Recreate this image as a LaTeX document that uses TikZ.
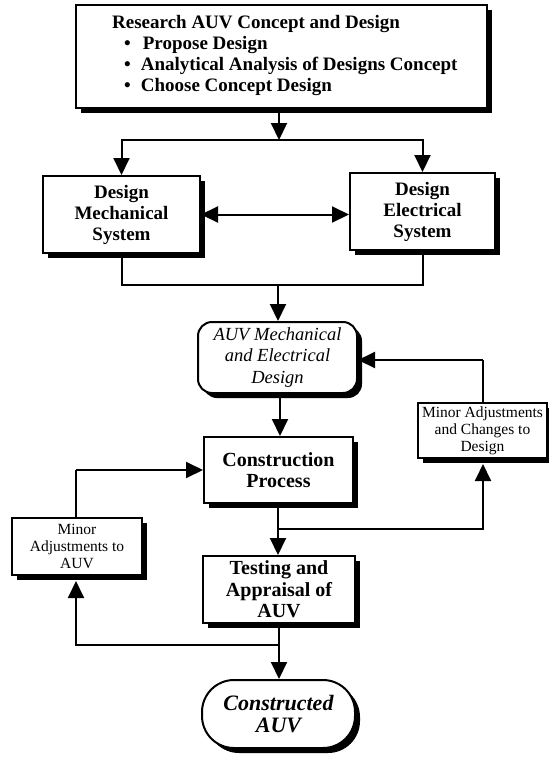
\documentclass[tikz,border=0pt]{standalone}
\usepackage{fontspec}
\setmainfont{Liberation Serif}
\usetikzlibrary{arrows.meta,shadows,calc}
\begin{document}
\begin{tikzpicture}[x=1pt,y=-1pt,
  box/.style={draw=black, line width=2pt, fill=white, inner sep=0pt, align=center,
    general shadow={fill=black, shadow xshift=5pt, shadow yshift=-5pt}},
  rbox/.style={box, rounded corners=14pt},
  stad/.style={box, rounded corners=32pt},
  bigtxt/.style={font=\bfseries\fontsize{19}{21}\selectfont},
  cptxt/.style={font=\bfseries\fontsize{20}{21.5}\selectfont},
  ittxt/.style={font=\itshape\fontsize{18.5}{21.5}\selectfont},
  endtxt/.style={font=\bfseries\itshape\fontsize{22}{22}\selectfont},
  smtxt/.style={font=\fontsize{15.5}{17}\selectfont},
  conn/.style={line width=2pt},
  arr/.style={conn, -{Triangle[length=17pt,width=16pt]}},
  darr/.style={conn, {Triangle[length=17pt,width=16pt]}-{Triangle[length=17pt,width=16pt]}}
]
\useasboundingbox (0,0) rectangle (549,761);

% nodes
\node[box, minimum width=411pt, minimum height=103pt] (top) at (281.5,56.5) {};
\node[anchor=west, align=left, inner sep=0pt, bigtxt] (toptxt) at (112,55.5)
  {Research AUV Concept and Design\\
   \hspace*{12pt}\textbullet\hspace{12pt}Propose Design\\
   \hspace*{12pt}\textbullet\hspace{10pt}Analytical Analysis of Designs Concept\\
   \hspace*{12pt}\textbullet\hspace{10pt}Choose Concept Design};

\node[box, bigtxt, minimum width=157pt, minimum height=77pt] (mech) at (121.5,214.5)
  {Design\\Mechanical\\System};
\node[box, bigtxt, minimum width=145pt, minimum height=77pt] (elec) at (422.5,211.5)
  {Design\\Electrical\\System};

\node[rbox, ittxt, minimum width=159pt, minimum height=71pt] (auv) at (277.5,357.5)
  {AUV Mechanical\\and Electrical\\Design};

\node[box, cptxt, minimum width=149pt, minimum height=66pt] (cons) at (278.5,470)
  {Construction\\Process};

\node[box, smtxt, minimum width=129pt, minimum height=55pt] (rmin) at (482.5,430.5)
  {Minor Adjustments\\and Changes to\\Design};

\node[box, smtxt, minimum width=130pt, minimum height=57pt] (lmin) at (77,546.5)
  {Minor\\Adjustments to\\AUV};

\node[box, cptxt, minimum width=152pt, minimum height=67pt] (test) at (279,589.5)
  {Testing and\\Appraisal of\\AUV};

\node[stad, endtxt, minimum width=153pt, minimum height=68pt] (fin) at (278.5,714)
  {Constructed\\AUV};

% junction coordinates
\coordinate (j1) at (279,140);
\coordinate (j2) at (278,285);
\coordinate (j3) at (278,529);
\coordinate (j4) at (279,645);
\coordinate (rtop) at (483,360);
\coordinate (ltop) at (76,470);

% connectors
\draw[arr] (top.south -| j1) -- (j1);
\draw[arr] (j1) -| (mech.north);
\draw[arr] (j1) -| (elec.north);
\draw[darr] (mech.east) -- (mech.east -| elec.west);
\draw[conn] (mech.south) |- (j2) -| (elec.south);
\draw[arr] (j2) -- (auv.north -| j2);
\draw[arr] (auv.south -| 280,0) -- (cons.north -| 280,0);
\draw[arr] (cons.south -| j3) -- (test.north -| j3);
\draw[arr] (j3) -| ([yshift=-5pt]rmin.south -| rtop);
\draw[conn] (rmin.north -| rtop) -- (rtop);
\draw[arr] (rtop) -- (auv.east |- rtop);
\draw[arr] (test.south -| j4) -- (fin.north -| j4);
\draw[arr] (j4) -| ([yshift=-5pt]lmin.south -| ltop);
\draw[conn] (lmin.north -| ltop) -- (ltop);
\draw[arr] (ltop) -- (cons.west |- ltop);
\end{tikzpicture}
\end{document}
